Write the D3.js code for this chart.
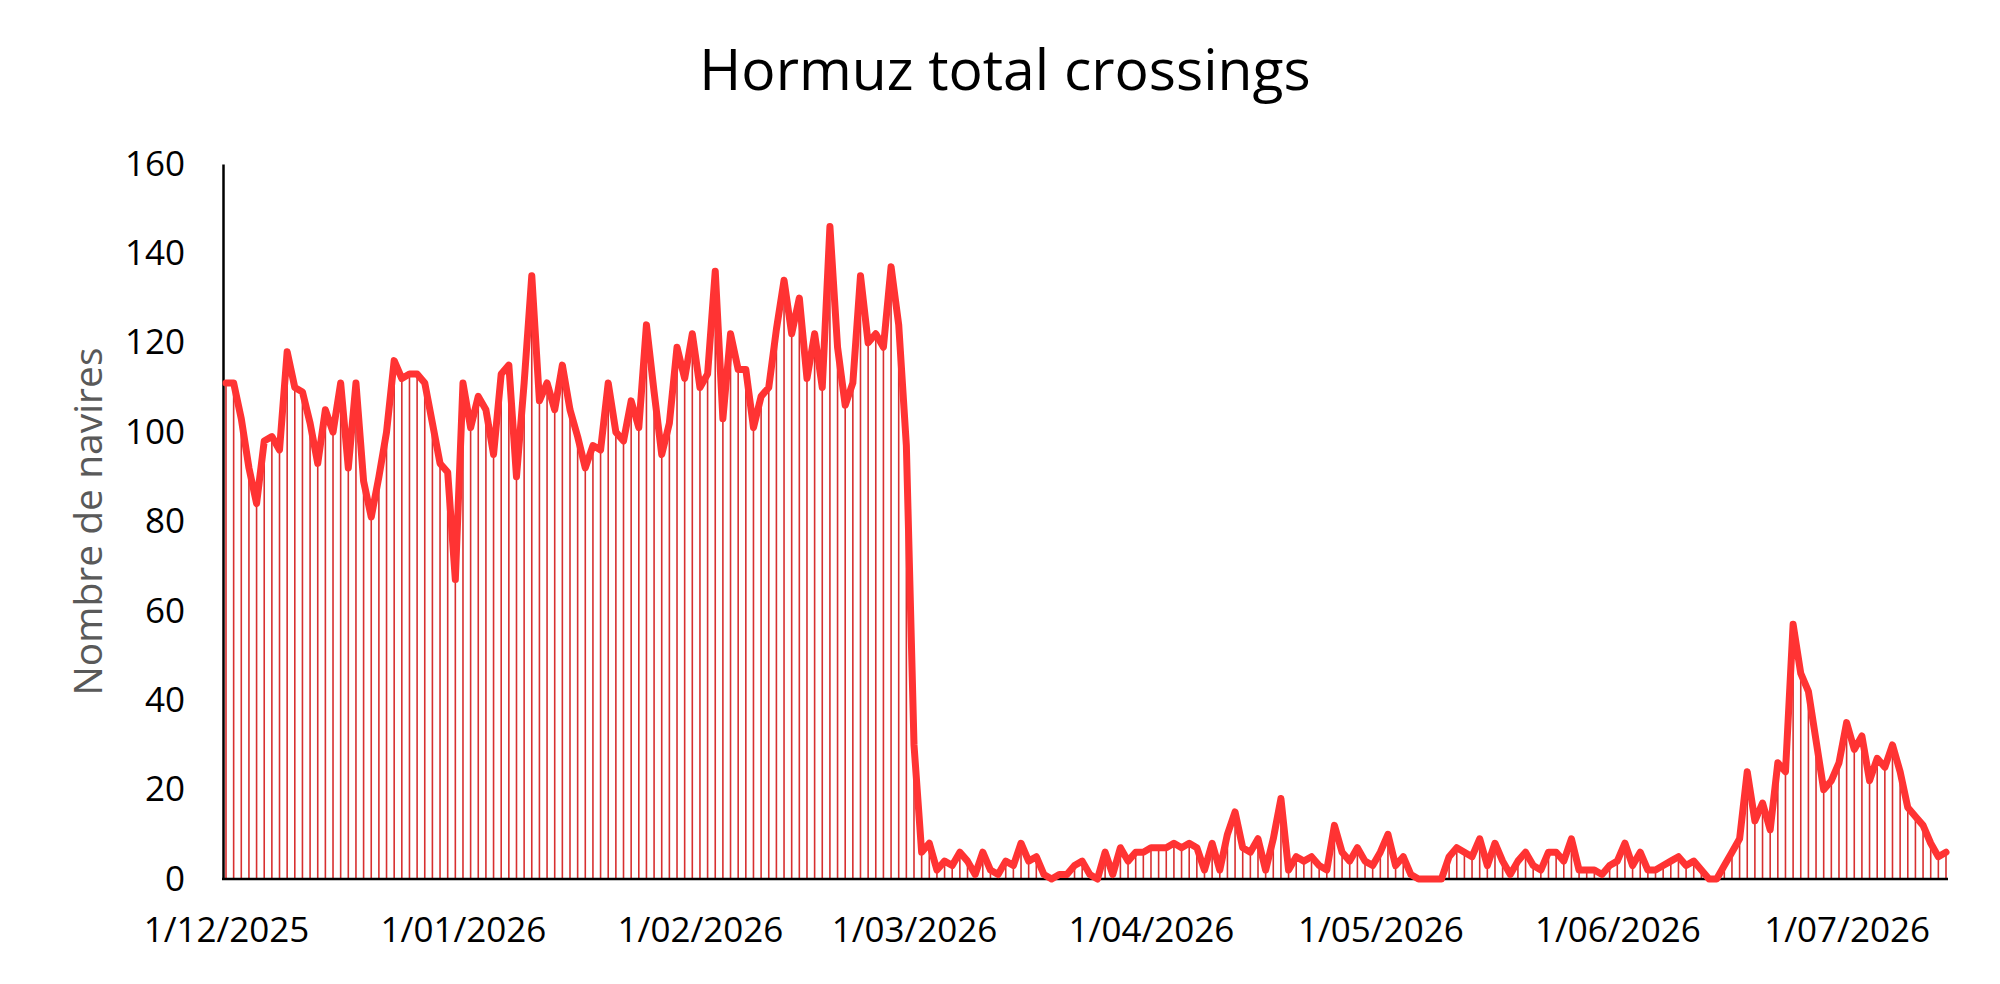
<!DOCTYPE html>
<html>
<head>
<meta charset="utf-8">
<script src="https://d3js.org/d3.v7.min.js"></script>

<style type="text/css">
    body { margin: 0; background-color: #ffffff; }
    text { font-family: "Open Sans", "Liberation Sans", sans-serif; }
    .domain { stroke: #000000; stroke-width: 2.5; }
    g.tick text { fill: #000000; font-size: 35px; }
</style>

<script>

    // daily counts, starting 1/12/2025
    var startDate = "2025-12-01";

    var crossings = [
        111, 111, 103,  92,  84,  98,  99,  96, 118, 110,
        109, 102,  93, 105, 100, 111,  92, 111,  89,  81,
         90, 100, 116, 112, 113, 113, 111, 102,  93,  91,
         67, 111, 101, 108, 105,  95, 113, 115,  90, 111,
        135, 107, 111, 105, 115, 105,  99,  92,  97,  96,
        111, 100,  98, 107, 101, 124, 109,  95, 102, 119,
        112, 122, 110, 113, 136, 103, 122, 114, 114, 101,
        108, 110, 123, 134, 122, 130, 112, 122, 110, 146,
        119, 106, 111, 135, 120, 122, 119, 137, 124,  97,
         30,   6,   8,   2,   4,   3,   6,   4,   1,   6,
          2,   1,   4,   3,   8,   4,   5,   1,   0,   1,
          1,   3,   4,   1,   0,   6,   1,   7,   4,   6,
          6,   7,   7,   7,   8,   7,   8,   7,   2,   8,
          2,  10,  15,   7,   6,   9,   2,   9,  18,   2,
          5,   4,   5,   3,   2,  12,   6,   4,   7,   4,
          3,   6,  10,   3,   5,   1,   0,   0,   0,   0,
          5,   7,   6,   5,   9,   3,   8,   4,   1,   4,
          6,   3,   2,   6,   6,   4,   9,   2,   2,   2,
          1,   3,   4,   8,   3,   6,   2,   2,   3,   4,
          5,   3,   4,   2,   0,   0,   3,   6,   9,  24,
         13,  17,  11,  26,  24,  57,  46,  42,  31,  20,
         22,  26,  35,  29,  32,  22,  27,  25,  30,  24,
         16,  14,  12,   8,   5,   6
    ];

    var tickDates = [ "2025-12-01", "2026-01-01", "2026-02-01", "2026-03-01",
                      "2026-04-01", "2026-05-01", "2026-06-01", "2026-07-01" ];

    var yTicks = [ 0, 20, 40, 60, 80, 100, 120, 140, 160 ];


    function render()
    {
        var dims = { "width": 2000, "height": 984 };
        var plot = { "left": 226, "right": 1946, "top": 164, "bottom": 879 };

        var svg = d3.select("div#chartHere")
          .append("svg")
          .attr("width",  dims.width)
          .attr("height", dims.height)
          ;

        var start = new Date(startDate + "T00:00:00Z");
        var data = crossings.map(function (v, i) {
            return { "date": d3.utcDay.offset(start, i), "value": v };
        });

        var xScale = d3.scaleUtc()
               .domain ( [ data[0].date, data[data.length - 1].date ] )
               .range  ( [ plot.left, plot.right ] );

        var yScale = d3.scaleLinear()
               .domain ( [ 0, 160 ] )
               .range  ( [ plot.bottom, plot.top ] );

        // title
        svg.append('text')
           .text('Hormuz total crossings')
           .attr('x', 1005)
           .attr('y', 90)
           .attr('fill', '#000000')
           .attr('font-size', 57)
           .style('text-anchor', 'middle')
           ;

        // y axis title
        svg.append('text')
           .text('Nombre de navires')
           .attr('transform', 'translate(102,' + ((plot.top + plot.bottom) / 2) + ') rotate(-90)')
           .attr('fill', '#595959')
           .attr('font-size', 39)
           .style('text-anchor', 'middle')
           ;

        // drop lines
        svg.selectAll('line.drop')
           .data(data)
           .enter().append('line')
           .attr('class', 'drop')
           .attr('x1', function (d) { return xScale(d.date); })
           .attr('x2', function (d) { return xScale(d.date); })
           .attr('y1', yScale(0))
           .attr('y2', function (d) { return yScale(d.value); })
           .attr('stroke', '#d83030')
           .attr('stroke-width', 1.6)
           ;

        // y axis
        var yAxis = d3.axisLeft(yScale)
           .tickValues(yTicks)
           .tickSize(0)
           .tickSizeOuter(0)
           .tickPadding(38);

        svg.append('g')
           .attr('transform', 'translate(' + (plot.left - 3) + ',0)')
           .call(yAxis)
           ;

        // x axis
        var xAxis = d3.axisBottom(xScale)
           .tickValues(tickDates.map(function (s) { return new Date(s + "T00:00:00Z"); }))
           .tickFormat(d3.utcFormat("%-d/%m/%Y"))
           .tickSize(0)
           .tickSizeOuter(0)
           .tickPadding(38);

        var gx = svg.append('g')
           .attr('transform', 'translate(0,' + yScale(0) + ')')
           .call(xAxis)
           ;
        gx.select('.domain')
           .attr('d', 'M' + (plot.left - 4) + ',0H' + (plot.right + 2));

        // main line
        var line = d3.line()
           .x(function (d) { return xScale(d.date); })
           .y(function (d) { return yScale(d.value); });

        svg.append('path')
           .datum(data)
           .attr('d', line)
           .attr('fill', 'none')
           .attr('stroke', '#ff3333')
           .attr('stroke-width', 7)
           .attr('stroke-linejoin', 'round')
           .attr('stroke-linecap', 'round')
           ;

    }  // end of render()

</script>
</head>

<body onload="render()">
<div id="chartHere"></div>
</body>
</html>
